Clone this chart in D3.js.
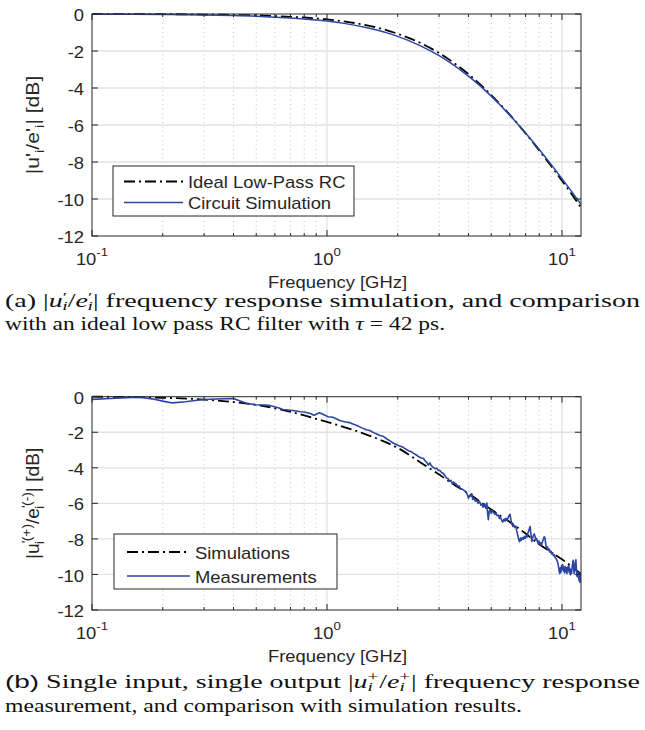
<!DOCTYPE html>
<html>
<head>
<meta charset="utf-8">
<script src="https://cdn.jsdelivr.net/npm/d3@7"></script>
<style>
  body { margin: 0; background: #fff; }
  svg { display: block; }
</style>
</head>
<body>
<div id="chart"></div>
<script>
// ---- values ----
const xTickValues = [0.1, 1, 10];
const xTickExponents = ["-1", "0", "1"];
const yTickValues = [0, -2, -4, -6, -8, -10, -12];

// (a) frequency response simulation
const freqA = [0.1, 0.15, 0.2, 0.3, 0.4, 0.5, 0.6, 0.7, 0.8, 0.9, 1, 1.2, 1.5, 1.8, 2, 2.5, 3, 3.5, 4, 4.5, 5, 6, 7, 8, 9, 10, 11, 12.05];
const idealA = [0, -0.01, -0.01, -0.03, -0.05, -0.07, -0.11, -0.15, -0.19, -0.24, -0.29, -0.41, -0.63, -0.88, -1.07, -1.57, -2.11, -2.68, -3.25, -3.82, -4.38, -5.45, -6.45, -7.37, -8.22, -9.01, -9.74, -10.46];
const circuitA = [-0.01, -0.02, -0.03, -0.05, -0.08, -0.12, -0.17, -0.22, -0.27, -0.32, -0.38, -0.52, -0.76, -1.02, -1.21, -1.72, -2.25, -2.8, -3.36, -3.9, -4.44, -5.47, -6.43, -7.32, -8.14, -8.9, -9.6, -10.28];

// (b) simulation vs. measurement
const freqSimB = [0.1, 0.15, 0.2, 0.3, 0.4, 0.5, 0.6, 0.7, 0.8, 0.9, 1, 1.3, 1.7, 2, 2.5, 3, 3.5, 4, 5, 6, 7, 8, 9, 10, 11, 12.05];
const simB = [0, -0.02, -0.06, -0.16, -0.3, -0.46, -0.65, -0.85, -1.05, -1.25, -1.42, -1.88, -2.45, -2.88, -3.7, -4.38, -4.98, -5.45, -6.35, -7.05, -7.7, -8.3, -8.75, -9.15, -9.55, -9.97];

const freqMeasB = [0.1, 0.12, 0.14, 0.16, 0.18, 0.2, 0.22, 0.25, 0.28, 0.3, 0.34, 0.4, 0.43, 0.46, 0.5, 0.55, 0.57, 0.62, 0.65, 0.7,
  0.74, 0.77, 0.8, 0.85, 0.88, 0.93, 0.97, 1.01, 1.06, 1.1, 1.14, 1.2, 1.25, 1.29, 1.34, 1.4, 1.47, 1.52, 1.58, 1.63,
  1.68, 1.73, 1.8, 1.86, 1.92, 1.98, 2.04, 2.11, 2.17, 2.23, 2.29, 2.33, 2.4, 2.46, 2.52, 2.57, 2.62, 2.66, 2.7, 2.74,
  2.78, 2.83, 2.88, 2.93, 2.98, 3.03, 3.08, 3.13, 3.18, 3.23, 3.28, 3.33, 3.37, 3.41, 3.46, 3.5, 3.55, 3.6, 3.65, 3.7,
  3.75, 3.8, 3.86, 3.91, 3.96, 4.0, 4.05, 4.1, 4.13, 4.17, 4.22, 4.28, 4.33, 4.4, 4.46, 4.52, 4.56, 4.62, 4.68, 4.74,
  4.79, 4.83, 4.86, 4.9, 4.95, 5.0, 5.06, 5.12, 5.18, 5.24, 5.3, 5.36, 5.42, 5.48, 5.54, 5.6, 5.66, 5.72, 5.78, 5.84,
  5.9, 5.96, 6.01, 6.06, 6.12, 6.18, 6.24, 6.3, 6.36, 6.42, 6.48, 6.54, 6.6, 6.66, 6.72, 6.78, 6.85, 6.92, 6.98, 7.04,
  7.1, 7.16, 7.22, 7.28, 7.32, 7.38, 7.44, 7.5, 7.56, 7.62, 7.68, 7.74, 7.8, 7.86, 7.92, 7.98, 8.05, 8.12, 8.18, 8.25,
  8.32, 8.4, 8.47, 8.54, 8.6, 8.68, 8.75, 8.83, 8.9, 8.98, 9.05, 9.12, 9.2, 9.28, 9.36, 9.44, 9.52, 9.6, 9.66, 9.72,
  9.78, 9.84, 9.9, 9.96, 10.02, 10.08, 10.14, 10.2, 10.26, 10.32, 10.38, 10.44, 10.5, 10.56, 10.62, 10.68, 10.74, 10.8, 10.86, 10.92,
  10.98, 11.04, 11.1, 11.16, 11.22, 11.28, 11.34, 11.4, 11.46, 11.52, 11.58, 11.64, 11.7, 11.76, 11.82, 11.88, 11.94, 12.0, 12.05];
const measB = [-0.15, -0.1, -0.05, -0.03, -0.12, -0.25, -0.35, -0.28, -0.2, -0.16, -0.13, -0.1, -0.25, -0.4, -0.45, -0.47, -0.5, -0.62, -0.72, -0.76,
  -0.8, -0.85, -0.86, -0.95, -1.04, -0.9, -1.02, -1.13, -1.16, -1.25, -1.35, -1.42, -1.46, -1.54, -1.62, -1.74, -1.86, -1.9, -2.02, -2.1,
  -2.18, -2.22, -2.38, -2.5, -2.62, -2.7, -2.78, -2.85, -2.96, -3.05, -3.1, -3.17, -3.28, -3.38, -3.45, -3.46, -3.62, -3.7, -3.85, -3.72,
  -3.88, -3.98, -4.05, -4.02, -4.15, -4.16, -4.28, -4.32, -4.45, -4.58, -4.62, -4.76, -4.7, -4.88, -4.8, -4.86, -4.92, -5.05, -5.02, -5.2,
  -5.18, -5.24, -5.3, -5.36, -5.52, -5.72, -5.55, -5.6, -5.45, -5.78, -5.7, -5.88, -5.82, -6.0, -5.9, -6.1, -6.05, -6.22, -6.02, -6.28,
  -5.98, -6.6, -6.92, -6.45, -6.38, -6.55, -6.42, -6.52, -6.62, -6.55, -6.7, -6.66, -6.85, -6.78, -6.95, -7.05, -6.9, -7.0, -6.85, -6.96,
  -6.8, -6.68, -6.62, -6.9, -7.15, -7.3, -7.22, -7.35, -7.28, -7.55, -7.78, -8.0, -8.16, -7.95, -8.08, -7.92, -8.02, -7.86, -7.98, -7.8,
  -7.9, -7.68, -7.55, -7.38, -7.3, -7.75, -8.15, -7.96, -7.8, -7.72, -7.85, -8.05, -7.98, -8.15, -8.25, -8.12, -8.3, -8.22, -8.36, -8.18,
  -8.05, -7.88, -7.95, -8.35, -8.52, -8.45, -8.65, -8.58, -8.75, -8.7, -8.85, -8.78, -8.95, -8.9, -9.05, -9.12, -9.2, -9.35, -9.55, -9.78,
  -9.95, -9.62, -9.88, -9.5, -9.72, -9.45, -9.8, -9.6, -9.92, -9.55, -9.85, -9.62, -9.95, -9.58, -9.78, -9.5, -9.9, -9.65, -10.02, -9.75,
  -9.95, -9.62, -9.4, -9.2, -9.75, -9.95, -9.55, -9.3, -9.18, -9.7, -10.1, -9.85, -10.15, -9.9, -10.35, -10.1, -10.45, -9.95, -10.2];

// ---- page setup ----
const width = 645;
const height = 730;
const svg = d3.select("#chart").append("svg")
  .attr("width", width)
  .attr("height", height);

const sansFont = "'Liberation Sans', Arial, Helvetica, sans-serif";
const serifFont = "'Liberation Serif', 'Times New Roman', serif";
const axisColor = "#262626";
const blue = "#2b45a3";
const dashDot = "11,4,2,4";
const SX = 1.15; // the figure's lettering is slightly wide

function sansText(g, x, y, anchor) {
  return g.append("text")
    .attr("transform", `translate(${x},${y}) scale(${SX},1)`)
    .attr("text-anchor", anchor)
    .style("font-family", sansFont)
    .style("font-size", "16px")
    .attr("fill", axisColor);
}

function drawPanel(o) {
  const g = svg.append("g");
  const x = d3.scaleLog().domain([0.1, 12.05]).range([92, 581]);
  const y = d3.scaleLinear().domain([-12, 0]).range([o.bottom, o.top]);

  const minorX = x.ticks().filter(d => !xTickValues.some(m => Math.abs(m - d) < 1e-9));

  // minor gridlines (dotted)
  g.selectAll(".minor-grid").data(minorX).join("line")
    .attr("x1", d => x(d)).attr("x2", d => x(d))
    .attr("y1", o.top).attr("y2", o.bottom)
    .attr("stroke", "#c4c4c4").attr("stroke-width", 1)
    .attr("stroke-dasharray", "1,3.5");

  // major gridlines
  g.selectAll(".xgrid").data(xTickValues.slice(1)).join("line")
    .attr("x1", d => x(d)).attr("x2", d => x(d))
    .attr("y1", o.top).attr("y2", o.bottom)
    .attr("stroke", "#e2e2e2").attr("stroke-width", 1.3);
  g.selectAll(".ygrid").data(yTickValues.slice(1, -1)).join("line")
    .attr("x1", x.range()[0]).attr("x2", x.range()[1])
    .attr("y1", d => y(d)).attr("y2", d => y(d))
    .attr("stroke", "#e2e2e2").attr("stroke-width", 1.3);

  // data lines
  const clipId = "clip-" + o.id;
  g.append("clipPath").attr("id", clipId).append("rect")
    .attr("x", x.range()[0]).attr("y", o.top - 2)
    .attr("width", x.range()[1] - x.range()[0]).attr("height", o.bottom - o.top + 2);

  const line = d3.line().x(d => x(d[0])).y(d => y(d[1]));
  o.series.forEach(s => {
    g.append("path")
      .datum(d3.zip(s.freq, s.values))
      .attr("clip-path", `url(#${clipId})`)
      .attr("fill", "none")
      .attr("stroke", s.color)
      .attr("stroke-width", s.width)
      .attr("stroke-dasharray", s.dash || null)
      .attr("stroke-linejoin", "round")
      .attr("d", line.curve(s.smooth ? d3.curveMonotoneX : d3.curveLinear));
  });

  // box
  g.append("rect")
    .attr("x", x.range()[0]).attr("y", o.top)
    .attr("width", x.range()[1] - x.range()[0]).attr("height", o.bottom - o.top)
    .attr("fill", "none").attr("stroke", axisColor).attr("stroke-width", 1);

  // tick marks
  const ticks = g.append("g").attr("stroke", axisColor).attr("stroke-width", 1);
  [x.range()[0], x.range()[1]].forEach((x0, i) => {
    ticks.selectAll(null).data(yTickValues).join("line")
      .attr("x1", x0).attr("x2", i === 0 ? x0 + 6 : x0 - 6)
      .attr("y1", d => y(d)).attr("y2", d => y(d));
  });
  [o.bottom, o.top].forEach((y0, i) => {
    const dir = i === 0 ? -1 : 1;
    ticks.selectAll(null).data(xTickValues).join("line")
      .attr("x1", d => x(d)).attr("x2", d => x(d))
      .attr("y1", y0).attr("y2", y0 + dir * 6);
    ticks.selectAll(null).data(minorX).join("line")
      .attr("x1", d => x(d)).attr("x2", d => x(d))
      .attr("y1", y0).attr("y2", y0 + dir * 3);
  });

  // y tick labels
  yTickValues.forEach(v => {
    sansText(g, 84, y(v) + 1.5, "end")
      .attr("dominant-baseline", "central")
      .text(v === 0 ? "0" : "-" + Math.abs(v));
  });

  // x tick labels 10^k
  xTickValues.forEach((v, i) => {
    const t = sansText(g, x(v), o.bottom + 29, "middle");
    t.append("tspan").text("10");
    t.append("tspan").attr("dy", -9).style("font-size", "11.5px").text(xTickExponents[i]);
  });

  // x axis title
  sansText(g, (x.range()[0] + x.range()[1]) / 2 + 1, o.bottom + 52, "middle").text("Frequency [GHz]");

  // y axis title
  const yt = g.append("text")
    .attr("transform", `translate(39,${(o.top + o.bottom) / 2}) rotate(-90) scale(${o.ylabelStretch},${SX})`)
    .attr("text-anchor", "middle")
    .style("font-family", sansFont)
    .style("font-size", "16px")
    .attr("fill", axisColor);
  o.ylabel(yt);

  // legend
  const L = o.legend;
  g.append("rect")
    .attr("x", L.x1).attr("y", L.y1)
    .attr("width", L.x2 - L.x1).attr("height", L.y2 - L.y1)
    .attr("fill", "#fff").attr("stroke", axisColor).attr("stroke-width", 1);
  o.series.forEach((s, i) => {
    const yy = L.rows[i];
    g.append("line")
      .attr("x1", L.s1).attr("x2", L.s2).attr("y1", yy).attr("y2", yy)
      .attr("stroke", s.color).attr("stroke-width", s.legendWidth || s.width)
      .attr("stroke-dasharray", s.dash || null);
    sansText(g, L.tx, yy + 1, "start")
      .attr("dominant-baseline", "central")
      .text(s.name);
  });
}

function sub(t, txt, dy, dx) {
  return t.append("tspan").attr("dy", dy).attr("dx", dx || 0).style("font-size", "11.5px").text(txt);
}

drawPanel({
  id: "a", top: 14, bottom: 236,
  series: [
    { name: "Ideal Low-Pass RC", freq: freqA, values: idealA, color: "#000", width: 1.8, dash: dashDot, smooth: true },
    { name: "Circuit Simulation", freq: freqA, values: circuitA, color: blue, width: 1.5, smooth: true }
  ],
  legend: { x1: 113, x2: 354, y1: 166, y2: 216, s1: 124, s2: 183, tx: 188, rows: [181.5, 202.5] },
  ylabelStretch: 1.32,
  ylabel: t => {
    t.append("tspan").text("|u'");
    sub(t, "i", 4);
    t.append("tspan").attr("dy", -4).text("/e'");
    sub(t, "i", 4);
    t.append("tspan").attr("dy", -4).text("| [dB]");
  }
});

drawPanel({
  id: "b", top: 396.7, bottom: 610,
  series: [
    { name: "Simulations", freq: freqSimB, values: simB, color: "#000", width: 1.8, dash: dashDot, smooth: true },
    { name: "Measurements", freq: freqMeasB, values: measB, color: blue, width: 1.6, legendWidth: 1.5 }
  ],
  legend: { x1: 114, x2: 337, y1: 534, y2: 589, s1: 127, s2: 190, tx: 195, rows: [552, 576] },
  ylabelStretch: 1.2,
  ylabel: t => {
    t.append("tspan").text("|u");
    sub(t, "'", -7);
    sub(t, "i", 11, -3);
    sub(t, "(+)", -11);
    t.append("tspan").attr("dy", 7).text("/e");
    sub(t, "'", -7);
    sub(t, "i", 11, -3);
    sub(t, "(-)", -11);
    t.append("tspan").attr("dy", 7).text("| [dB]");
  }
});

// ---- captions ----
function caption(x, y, len, build) {
  const t = svg.append("text")
    .attr("x", x).attr("y", y)
    .style("font-family", serifFont)
    .style("font-size", "18px")
    .attr("fill", "#111");
  if (len) t.attr("textLength", len).attr("lengthAdjust", "spacingAndGlyphs");
  build(t);
  return t;
}
function it(t, txt) { return t.append("tspan").style("font-style", "italic").text(txt); }
function sm(t, txt, dy, dx, italic) {
  return t.append("tspan").attr("dy", dy).attr("dx", dx || 0)
    .style("font-size", "12.5px").style("font-style", italic ? "italic" : "normal").text(txt);
}

caption(5, 307, 635, t => {
  t.append("tspan").text("(a) |");
  it(t, "u");
  sm(t, "\u2032", -6, 0);
  sm(t, "i", 9, -3, true);
  t.append("tspan").attr("dy", -3).text("/");
  it(t, "e");
  sm(t, "\u2032", -6, 0);
  sm(t, "i", 9, -3, true);
  t.append("tspan").attr("dy", -3).text("| frequency response simulation, and comparison");
});
caption(5, 330, 440, t => {
  t.append("tspan").text("with an ideal low pass RC filter with ");
  it(t, "\u03c4");
  t.append("tspan").text(" = 42 ps.");
});

caption(5, 688, 635, t => {
  t.append("tspan").style("font-family", sansFont).text("(b)");
  t.append("tspan").text(" Single input, single output |");
  it(t, "u");
  sm(t, "+", -7, 0);
  sm(t, "i", 10, -7, true);
  t.append("tspan").attr("dy", -3).attr("dx", 4).text("/");
  it(t, "e");
  sm(t, "+", -7, 0);
  sm(t, "i", 10, -7, true);
  t.append("tspan").attr("dy", -3).attr("dx", 4).text("| frequency response");
});
caption(5, 711.5, 517, t => {
  t.text("measurement, and comparison with simulation results.");
});
</script>
</body>
</html>
